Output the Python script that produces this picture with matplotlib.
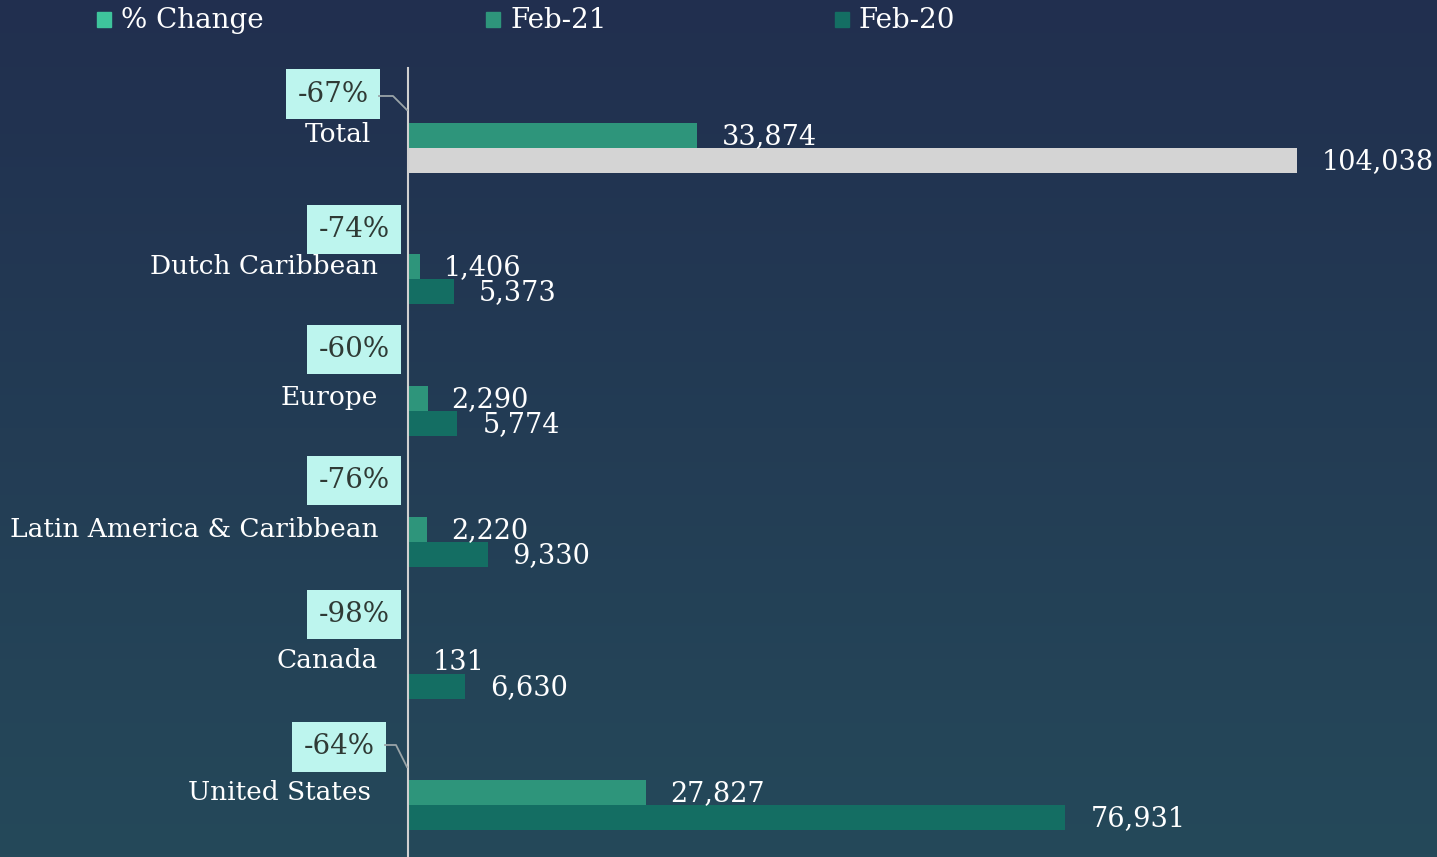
import numpy as np
import matplotlib
matplotlib.use("Agg")
import matplotlib.pyplot as plt
from matplotlib.patches import Rectangle

categories = ["Total", "Dutch Caribbean", "Europe", "Latin America & Caribbean", "Canada", "United States"]
feb21 = [33874, 1406, 2290, 2220, 131, 27827]
feb20 = [104038, 5373, 5774, 9330, 6630, 76931]
pct_change = ["-67%", "-74%", "-60%", "-76%", "-98%", "-64%"]
legend_labels = ["% Change", "Feb-21", "Feb-20"]

c_pct = "#3ec49c"
c21 = "#2e957b"
c20 = "#146e63"
c_total20 = "#d4d4d4"
box_c = "#bdf5ee"

plt.rcParams['font.family'] = ['DejaVu Serif']
W, H = 1437, 857
fig = plt.figure(figsize=(W / 100, H / 100), dpi=100)

# background gradient
bg = fig.add_axes([0, 0, 1, 1], zorder=0)
top = np.array([0x21, 0x2f, 0x4f]) / 255
bot = np.array([0x25, 0x49, 0x5a]) / 255
t = np.linspace(0, 1, 256)[:, None]
grad = top[None, :] * (1 - t) + bot[None, :] * t
bg.imshow(grad[:, None, :], aspect='auto', extent=[0, 1, 0, 1])
bg.axis('off')

# main axes: pixel 408..1437 horizontally, 68..857 vertically
ax = fig.add_axes([408 / W, 0, (W - 408) / W, (H - 68) / H], zorder=1)
ax.patch.set_alpha(0)
px_per_unit = 889 / 104038
ax.set_xlim(0, (W - 408) / px_per_unit)
spacing = 131.4
ax.set_ylim((857 - 148) / spacing, (68 - 148) / spacing)
bh = 25 / spacing

y = np.arange(len(categories))
cols20 = [c_total20] + [c20] * (len(categories) - 1)
ax.barh(y - bh / 2, feb21, height=bh, color=c21, zorder=2)
ax.barh(y + bh / 2, feb20, height=bh, color=cols20, zorder=2)

for spine in ["top", "right", "bottom"]:
    ax.spines[spine].set_visible(False)
ax.spines["left"].set_color("#d0d0d0")
ax.spines["left"].set_linewidth(1.5)
ax.set_xticks([])
ax.set_yticks([])

fs = 19.5
for i in range(len(categories)):
    ax.annotate(f"{feb21[i]:,}", xy=(feb21[i], y[i] - bh / 2), xytext=(24, -1),
                textcoords='offset pixels', ha='left', va='center', color='white',
                fontsize=fs, annotation_clip=False, zorder=3)
    ax.annotate(f"{feb20[i]:,}", xy=(feb20[i], y[i] + bh / 2), xytext=(25, -1),
                textcoords='offset pixels', ha='left', va='center', color='white',
                fontsize=fs, annotation_clip=False, zorder=3)

# category labels and % change boxes
lab_dx = [-37, -30, -30, -30, -30, -37]
lab_dy = [13, 13, 13, 13, 13, 13]
box_dx = [-75, -54, -54, -54, -54, -69]
box_dy = [54, 50, 61, 62, 59, 58]
for i, cat in enumerate(categories):
    ax.annotate(cat, xy=(0, y[i]), xytext=(lab_dx[i], lab_dy[i]), textcoords='offset pixels',
                ha='right', va='center', color='white', fontsize=19, annotation_clip=False)
    ax.annotate(pct_change[i], xy=(0, y[i]), xytext=(box_dx[i], box_dy[i]), textcoords='offset pixels',
                ha='center', va='center', color='#2f3a35', fontsize=20, annotation_clip=False,
                bbox=dict(boxstyle='square,pad=0.4', fc=box_c, ec='none'))

# leader lines for Total and United States
def leader(i, xa, xb, ya, yb):
    base = ax.transData.transform((0, y[i]))
    xs = [base[0] + xa, base[0] + xb, base[0] - 1]
    ys = [base[1] + ya, base[1] + ya, base[1] + yb]
    fig.add_artist(plt.Line2D(np.array(xs) / W, np.array(ys) / H, color='#9aa4a8', lw=1.3,
                              transform=fig.transFigure, zorder=5))
leader(0, -29, -15, 52, 38)
leader(5, -23, -12, 60, 38)

# legend
leg_x = [97, 486, 835]
leg_cols = [c_pct, c21, c20]
for lx, lc, lt in zip(leg_x, leg_cols, legend_labels):
    fig.add_artist(Rectangle((lx / W, (H - 27) / H), 14 / W, 15 / H, color=lc,
                             transform=fig.transFigure))
    fig.text((lx + 24) / W, (H - 20) / H, lt, color='white', fontsize=20,
             ha='left', va='center')

fig.savefig("out.png", dpi=100)
